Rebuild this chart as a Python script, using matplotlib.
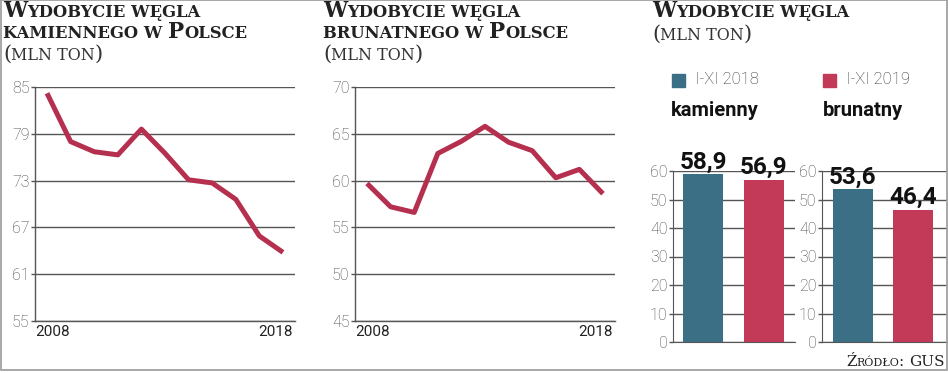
import matplotlib
matplotlib.use("Agg")
import matplotlib.pyplot as plt
import matplotlib.transforms as mtransforms
from matplotlib.font_manager import fontManager
from matplotlib.patches import Rectangle

# data
years = list(range(2008, 2019))
kamienny = [84.2, 78.0, 76.7, 76.3, 79.6, 76.5, 73.1, 72.7, 70.6, 65.9, 63.8]
brunatny = [59.7, 57.2, 56.6, 62.9, 64.2, 65.8, 64.1, 63.2, 60.3, 61.2, 58.6]
okresy = ["I-XI 2018", "I-XI 2019"]
bar_kam = [58.9, 56.9]
bar_bru = [53.6, 46.4]

W, H = 948, 373
LINE = "#b5304f"
BLUE = "#3b6f86"
RED = "#c23a58"
GRID = "#555555"

names = {f.name for f in fontManager.ttflist}
COND = "Liberation Sans Narrow" if "Liberation Sans Narrow" in names else "Roboto"
SERIF = "DejaVu Serif" if "DejaVu Serif" in names else "Liberation Serif"

fig = plt.figure(figsize=(W / 100, H / 100), dpi=100)
fig.patch.set_facecolor("white")
renderer = fig.canvas.get_renderer()


def px(x, y):
    return x / W, 1 - y / H


def smallcaps(x, y, s, big, small, weight="bold", color="#222222", dry=False):
    # fake small caps: lowercase letters drawn as smaller capitals
    runs = []
    for ch in s:
        kind = "s" if ch.islower() else ("=" if ch == " " else "b")
        if kind == "=" and runs:
            kind = runs[-1][1]
        if runs and runs[-1][1] == kind:
            runs[-1][0] += ch
        else:
            runs.append([ch, kind])
    cx = x
    for txt, kind in runs:
        t = fig.text(*px(cx, y), txt.upper(), fontsize=big if kind == "b" else small,
                     fontweight=weight, family=SERIF, color=color, va="baseline")
        cx += t.get_window_extent(renderer).width
        if dry:
            t.remove()
    return cx


def line_panel(left, data, lo, hi, step, title2):
    ax = fig.add_axes([left / W, (H - 321) / H, 260 / W, 234 / H])
    ax.plot(years, data, color=LINE, lw=3.6, solid_capstyle="butt", zorder=3)
    ax.set_xlim(2007.49, 2018.51)
    ax.set_ylim(lo, hi)
    ax.set_yticks(range(lo, hi + 1, step))
    ax.grid(axis="y", color=GRID, lw=1)
    ax.set_xticks([2008, 2018])
    ax.tick_params(axis="x", length=0, pad=3, labelsize=11, labelcolor="#222222")
    ax.tick_params(axis="y", length=3, width=1, color=GRID, pad=1, labelsize=11.5,
                   labelcolor="#444444")
    for lab in ax.get_xticklabels() + ax.get_yticklabels():
        lab.set_family(COND)
    for lab in ax.get_yticklabels():
        lab.set_fontweight("light")
    labs = ax.get_xticklabels()
    labs[0].set_transform(labs[0].get_transform() +
                          mtransforms.ScaledTranslation(0.06, 0, fig.dpi_scale_trans))
    labs[1].set_transform(labs[1].get_transform() +
                          mtransforms.ScaledTranslation(-0.07, 0, fig.dpi_scale_trans))
    for s in ["top", "right"]:
        ax.spines[s].set_visible(False)
    for s in ["left", "bottom"]:
        ax.spines[s].set_color(GRID)
        ax.spines[s].set_linewidth(1)
    ax.set_facecolor("none")
    x0 = left - 32
    smallcaps(x0, 17, "Wydobycie węgla", 15.5, 11.8)
    smallcaps(x0, 38, title2, 15.5, 11.8)
    smallcaps(x0, 60, "(mln ton)", 15, 11.5, weight="normal", color="#333333")
    return ax


line_panel(35, kamienny, 55, 85, 6, "kamiennego w Polsce")
line_panel(355, brunatny, 45, 70, 5, "brunatnego w Polsce")


def bar_panel(left, width, xr, vals):
    ax = fig.add_axes([left / W, (H - 342) / H, width / W, 171 / H])
    bars = ax.bar([0, 1], vals, width=0.66, color=[BLUE, RED], zorder=3)
    ax.set_xlim(*xr)
    ax.set_ylim(0, 60)
    ax.set_yticks(range(0, 61, 10))
    ax.set_xticks([])
    ax.grid(axis="y", color=GRID, lw=1, zorder=0)
    ax.tick_params(axis="y", length=3, width=1, color=GRID, pad=1, labelsize=11.5,
                   labelcolor="#444444")
    for lab in ax.get_yticklabels():
        lab.set_family(COND)
        lab.set_fontweight("light")
    for s in ["top", "right"]:
        ax.spines[s].set_visible(False)
    ax.spines["left"].set_color(GRID)
    ax.spines["bottom"].set_color(GRID)
    for b, v in zip(bars, vals):
        ax.annotate(f"{v:.1f}".replace(".", ","), (b.get_x() + b.get_width() / 2, v),
                    xytext=(0, 0.5), textcoords="offset points", ha="center", va="bottom",
                    fontsize=17.5, fontweight="bold", family=COND, color="#111111",
                    annotation_clip=False, zorder=5)
    ax.set_facecolor("none")
    return ax


bar_panel(673, 122, (-0.5, 1.52), bar_kam)
bar_panel(822, 125, (-0.504, 1.56), bar_bru)

smallcaps(652, 17, "Wydobycie węgla", 15.5, 11.8)
smallcaps(652, 40, "(mln ton)", 15, 11.5, weight="normal", color="#333333")

# legend
for xs, col, lab in [(672, BLUE, okresy[0]), (823, RED, okresy[1])]:
    fig.patches.append(Rectangle(px(xs, 87), 13 / W, 13 / H, transform=fig.transFigure,
                                 color=col))
    fig.text(*px(xs + 23, 80), lab, fontsize=12, family=COND, color="#333333",
             va="center", fontweight="light")
fig.text(*px(671, 110), "kamienny", fontsize=14.5, fontweight="bold", family=COND,
         color="#111111", va="center")
fig.text(*px(823, 110), "brunatny", fontsize=14.5, fontweight="bold", family=COND,
         color="#111111", va="center")

# source, right aligned at the frame
g = fig.text(*px(945, 366), "GUS", fontsize=11, family=SERIF, color="#222222",
             va="baseline", ha="right")
gw = g.get_window_extent(renderer).width
sw = smallcaps(0, 366, "Źródło: ", 11, 8, weight="normal", dry=True)
smallcaps(945 - gw - sw, 366, "Źródło: ", 11, 8, weight="normal")

# frame
fig.patches.append(Rectangle((0.001, 0.008), 0.998, 0.991, transform=fig.transFigure,
                             fill=False, edgecolor="#9a9a9a", lw=1.2))

fig.savefig("out.png", dpi=100)
